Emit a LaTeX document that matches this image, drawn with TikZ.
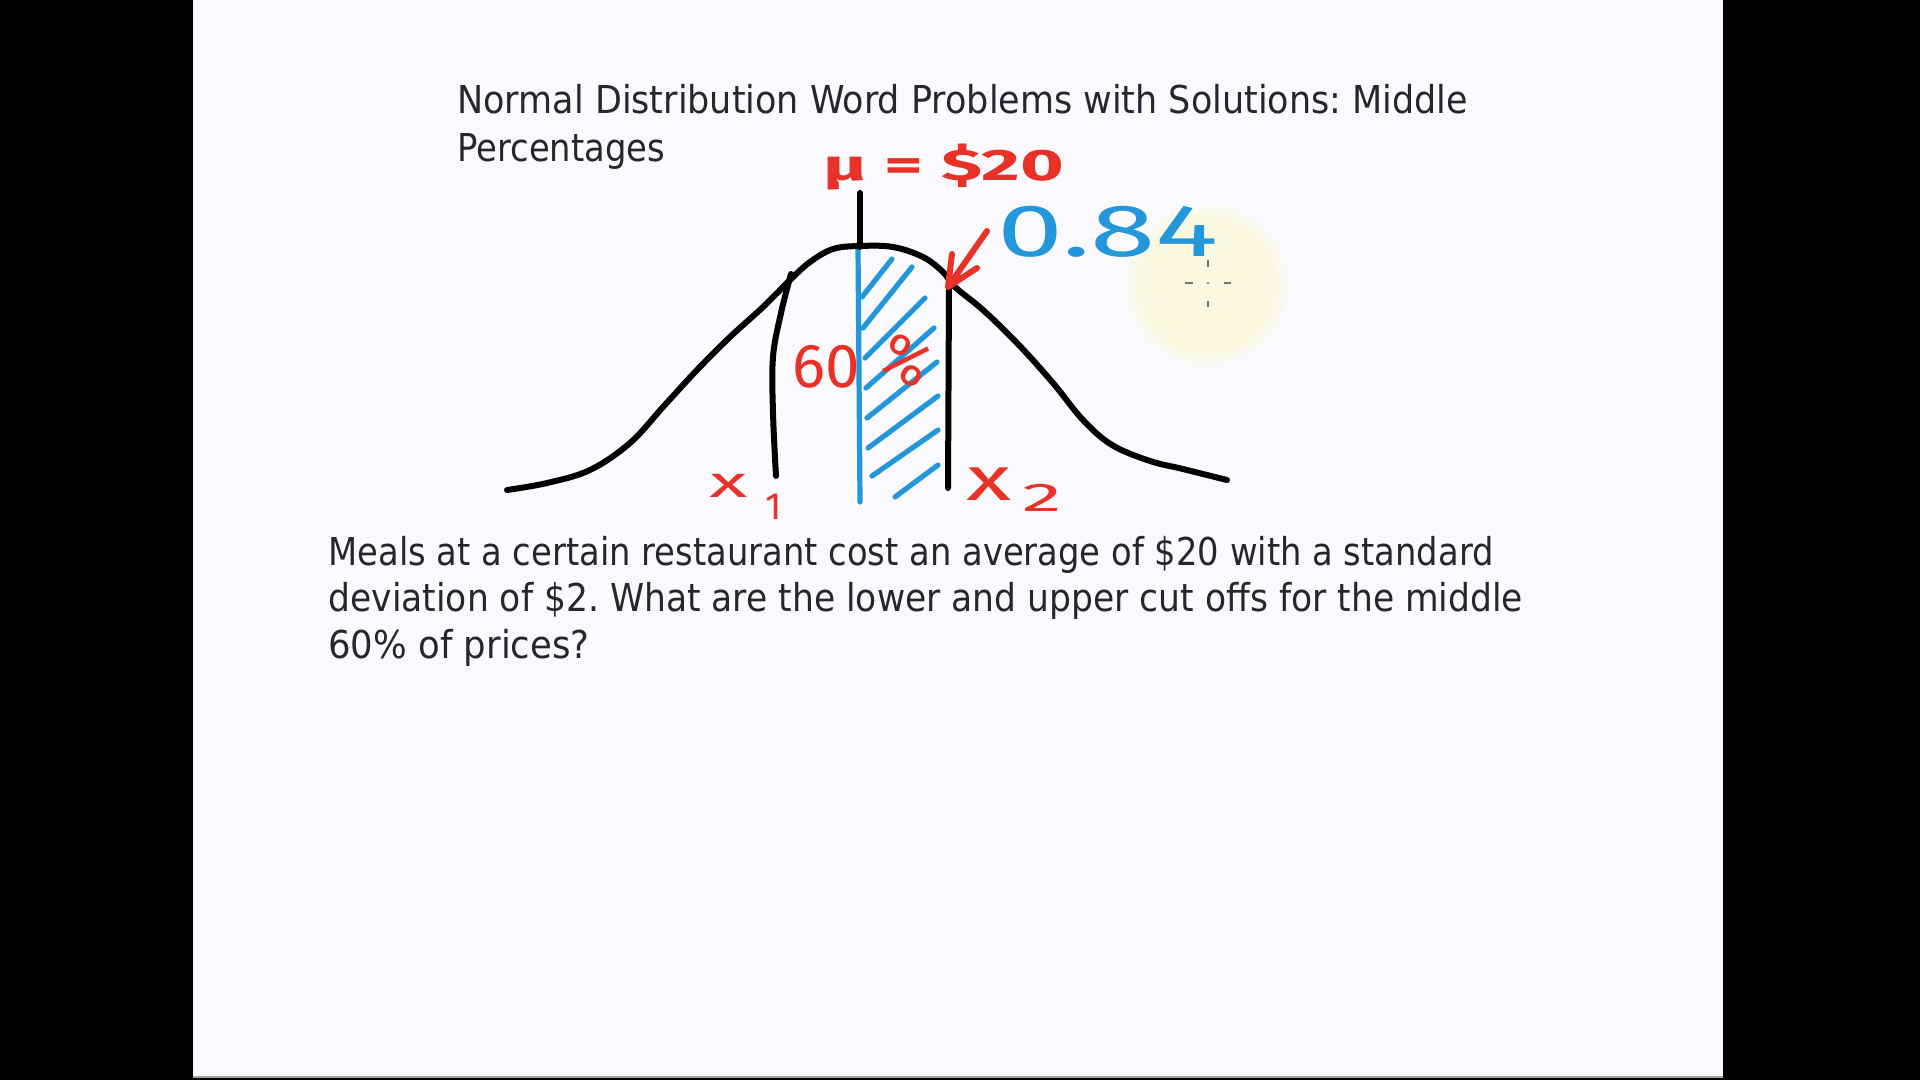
\documentclass[tikz,border=0pt]{standalone}
\usepackage{graphicx}
\usepackage{fontspec}
\setmainfont{DejaVu Sans}[FakeStretch=0.88]
\newfontfamily\hand{Fira Sans}
\frenchspacing
\definecolor{slidebg}{RGB}{250,250,254}
\definecolor{slideink}{RGB}{38,38,48}
\definecolor{hred}{RGB}{232,50,40}
\definecolor{hblue}{RGB}{36,150,218}
\definecolor{glow}{RGB}{249,249,226}
\tikzset{
  slidetext/.style={anchor=base west, inner sep=0pt, text=slideink, font=\fontsize{19.2pt}{23pt}\selectfont},
  inkline/.style={line width=3pt, line cap=round, line join=round},
  blueink/.style={draw=hblue, line width=2.6pt, line cap=round},
  redhand/.style={text=hred, inner sep=0pt, font=\hand},
  bluehand/.style={text=hblue, inner sep=0pt, font=\hand},
  cross/.style={draw=black!55, line width=0.8pt}
}
\begin{document}
\begin{tikzpicture}[x=0.5pt,y=-0.5pt]
\useasboundingbox (0,0) rectangle (1920,1080);
\fill[black] (0,0) rectangle (1920,1080);
\fill[slidebg] (193,0) rectangle (1723,1077);
\draw[black!35, line width=1pt] (193,1077) -- (1723,1077);

% cursor glow
\fill[glow!60!slidebg] (1207,285) circle (80);
\fill[glow] (1207,285) circle (71);

% text
\node[slidetext] (t1) at (457,114) {\scalebox{1.035}[1]{Normal Distribution Word Problems with Solutions: Middle}};
\node[slidetext] (t2) at (457,162) {Percentages};
\node[slidetext] (b1) at (328,565) {Meals at a certain restaurant cost an average of \$20 with a standard};
\node[slidetext] (b2) at (328,611) {\scalebox{1.022}[1]{deviation of \$2. What are the lower and upper cut offs for the middle}};
\node[slidetext] (b3) at (328,658) {\scalebox{1.05}[1]{60\% of prices?}};

% hatching
\foreach \ax/\ay/\bx/\by in {862/297/892/259, 863/328/912/267, 865/358/925/298, 866/388/934/328, 867/418/937/362, 868/448/938/396, 872/476/938/430, 895/497/938/465}
  \draw[blueink] (\ax,\ay) -- (\bx,\by);
% blue mean line
\coordinate (mtop) at (858,248);
\coordinate (mbot) at (860,502);
\draw[blueink] (mtop) -- (mbot);

% bell curve
\draw[inkline] plot[smooth, tension=0.6] coordinates {(507,490) (547,483) (590,470) (630,443) (663,407) (697,370) (730,337) (763,307) (790,280) (810,262) (833,249) (860,246) (893,247) (923,257) (943,272) (955,287) (983,310) (1017,343) (1053,383) (1083,420) (1112,445) (1150,461) (1183,469) (1227,480)};

% mean line (black part)
\coordinate (mu1) at (860,193);
\coordinate (mu2) at (860,247);
\draw[inkline] (mu1) -- (mu2);

% x1 cut-off
\draw[inkline] plot[smooth, tension=0.6] coordinates {(791,274) (781,313) (773,357) (773,413) (776,476)};
% x2 cut-off
\coordinate (x2top) at (949,287);
\coordinate (x2bot) at (948,488);
\draw[inkline] (x2top) -- (x2bot);

% red arrow
\coordinate (atail) at (987,231);
\coordinate (atip) at (948,287);
\coordinate (ah1) at (952,254);
\coordinate (ah2) at (977,268);
\draw[draw=hred, line width=3pt, line cap=round, line join=round] (atail) -- (atip) (ah1) -- (atip) -- (ah2);

% handwritten labels
\node[redhand, font=\hand\bfseries\fontsize{22pt}{26pt}\selectfont] (mu) at (944,167) {\scalebox{1.7}[1]{μ = \$20}};
\node[bluehand, font=\hand\fontsize{37pt}{40pt}\selectfont] (p84) at (1108,232) {\scalebox{1.6}[1]{0.84}};
\node[redhand, font=\hand\fontsize{31pt}{34pt}\selectfont] (sixty) at (826,367) {60};
\node[redhand, font=\hand\fontsize{30pt}{34pt}\selectfont, rotate=-30] (pct) at (906,360) {\%};
\node[redhand, font=\hand\fontsize{22pt}{26pt}\selectfont] (xa) at (729,486) {\scalebox{1.8}[1]{x}};
\node[redhand, font=\hand\fontsize{19pt}{22pt}\selectfont] (xa1) at (774,507) {1};
\node[redhand, font=\hand\fontsize{31pt}{34pt}\selectfont] (xb) at (989,484) {\scalebox{1.5}[1]{x}};
\node[redhand, font=\hand\fontsize{20pt}{24pt}\selectfont] (xb2) at (1042,498) {\scalebox{2}[1]{2}};

% cursor crosshair
\coordinate (cc) at (1208,283);
\draw[cross] (1208,260) -- (1208,267) (1208,301) -- (1208,307) (1185,283) -- (1193,283) (1224,283) -- (1231,283);
\fill[black!55] (cc) circle (1.2);
\end{tikzpicture}
\end{document}
